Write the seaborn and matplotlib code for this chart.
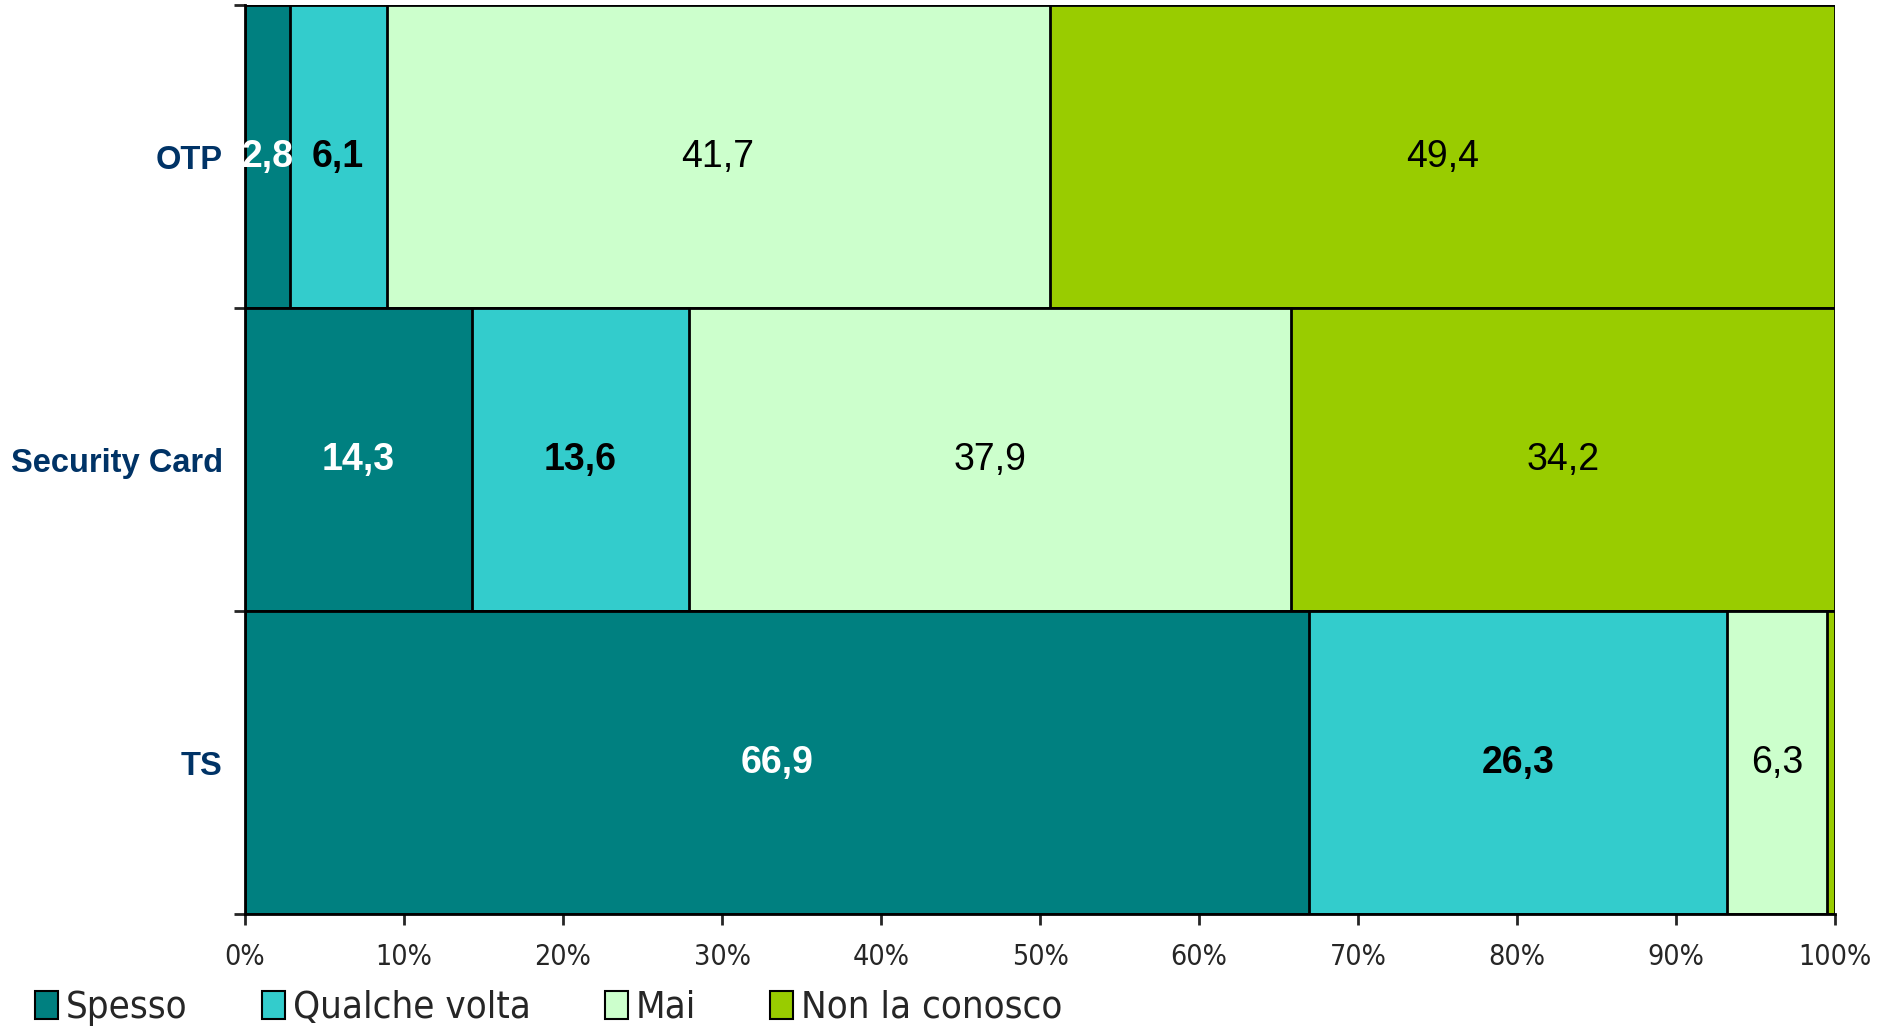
import matplotlib
matplotlib.use("Agg")
import matplotlib.pyplot as plt
import seaborn as sns
import pandas as pd
import numpy as np
from matplotlib.patches import Patch
from matplotlib import font_manager as fm

categories = ["OTP", "Security Card", "TS"]
series_names = ["Spesso", "Qualche volta", "Mai", "Non la conosco"]
spesso = [2.8, 14.3, 66.9]
qualche_volta = [6.1, 13.6, 26.3]
mai = [41.7, 37.9, 6.3]
non_la_conosco = [49.4, 34.2, 0.5]
colors = ["#008080", "#33CCCC", "#CCFFCC", "#99CC00"]
tick_labels = ["0%", "10%", "20%", "30%", "40%", "50%", "60%", "70%", "80%", "90%", "100%"]

sns.set_style("white")
names = {(f.name, f.stretch) for f in fm.fontManager.ttflist}
if any(n == "Liberation Sans Narrow" for n, s in names):
    narrow = fm.FontProperties(family="Liberation Sans Narrow")
else:
    narrow = fm.FontProperties(family="DejaVu Sans", stretch="condensed")
plt.rcParams["font.family"] = ["Liberation Sans", "DejaVu Sans"]

fig = plt.figure(figsize=(18.81, 10.30), dpi=100)
ax = fig.add_axes([245/1881, 1-914/1030, (1835-245)/1881, (914-5)/1030])

series = [spesso, qualche_volta, mai, non_la_conosco]
cum = np.cumsum(np.array(series), axis=0)
for i in range(3, -1, -1):
    df = pd.DataFrame({"cat": categories, "val": cum[i]})
    sns.barplot(data=df, x="val", y="cat", orient="h", color=colors[i],
                width=1.0, edgecolor="black", linewidth=2.0, saturation=1,
                ax=ax, errorbar=None)

styles = [("white", "bold"), ("black", "bold"), ("black", "normal"), ("black", "normal")]
for i, s in enumerate(series):
    for j, v in enumerate(s):
        if v < 1:
            continue
        left = cum[i][j] - v
        c, w = styles[i]
        ax.text(left + v/2, j, f"{v:.1f}".replace(".", ","), ha="center", va="center",
                color=c, fontweight=w, fontsize=27)

ax.set_xlim(0, 100)
ax.set_ylim(2.5, -0.5)
ax.set_xticks(np.arange(0, 101, 10))
tp = narrow.copy(); tp.set_size(20.5)
ax.set_xticklabels(tick_labels, fontproperties=tp)
ax.set_yticks([0, 1, 2])
ax.set_yticklabels(categories, fontsize=23.5, fontweight="bold", color="#003366")
ax.tick_params(axis="y", length=0, pad=16)
ax.tick_params(axis="x", length=8, width=2, direction="out", pad=13, bottom=True)
ax.set_yticks([-0.5, 0.5, 1.5, 2.5], minor=True)
ax.tick_params(axis="y", which="minor", length=8, width=2, direction="out", left=True)
ax.set_xlabel("")
ax.set_ylabel("")
for sp in ["top", "right"]:
    ax.spines[sp].set_visible(False)
for sp in ["left", "bottom"]:
    ax.spines[sp].set_linewidth(2)
    ax.spines[sp].set_color("black")

lp = narrow.copy(); lp.set_size(27.5)
handles = [Patch(facecolor=c, edgecolor="black", linewidth=1.5) for c in colors]
fig.legend(handles, series_names, loc="center left", bbox_to_anchor=(1/1881, 1-1008/1030),
           ncol=4, frameon=False, handlelength=0.6, handleheight=0.75, handletextpad=0.2,
           columnspacing=1.95, prop=lp)

fig.savefig("out.png", dpi=100)
